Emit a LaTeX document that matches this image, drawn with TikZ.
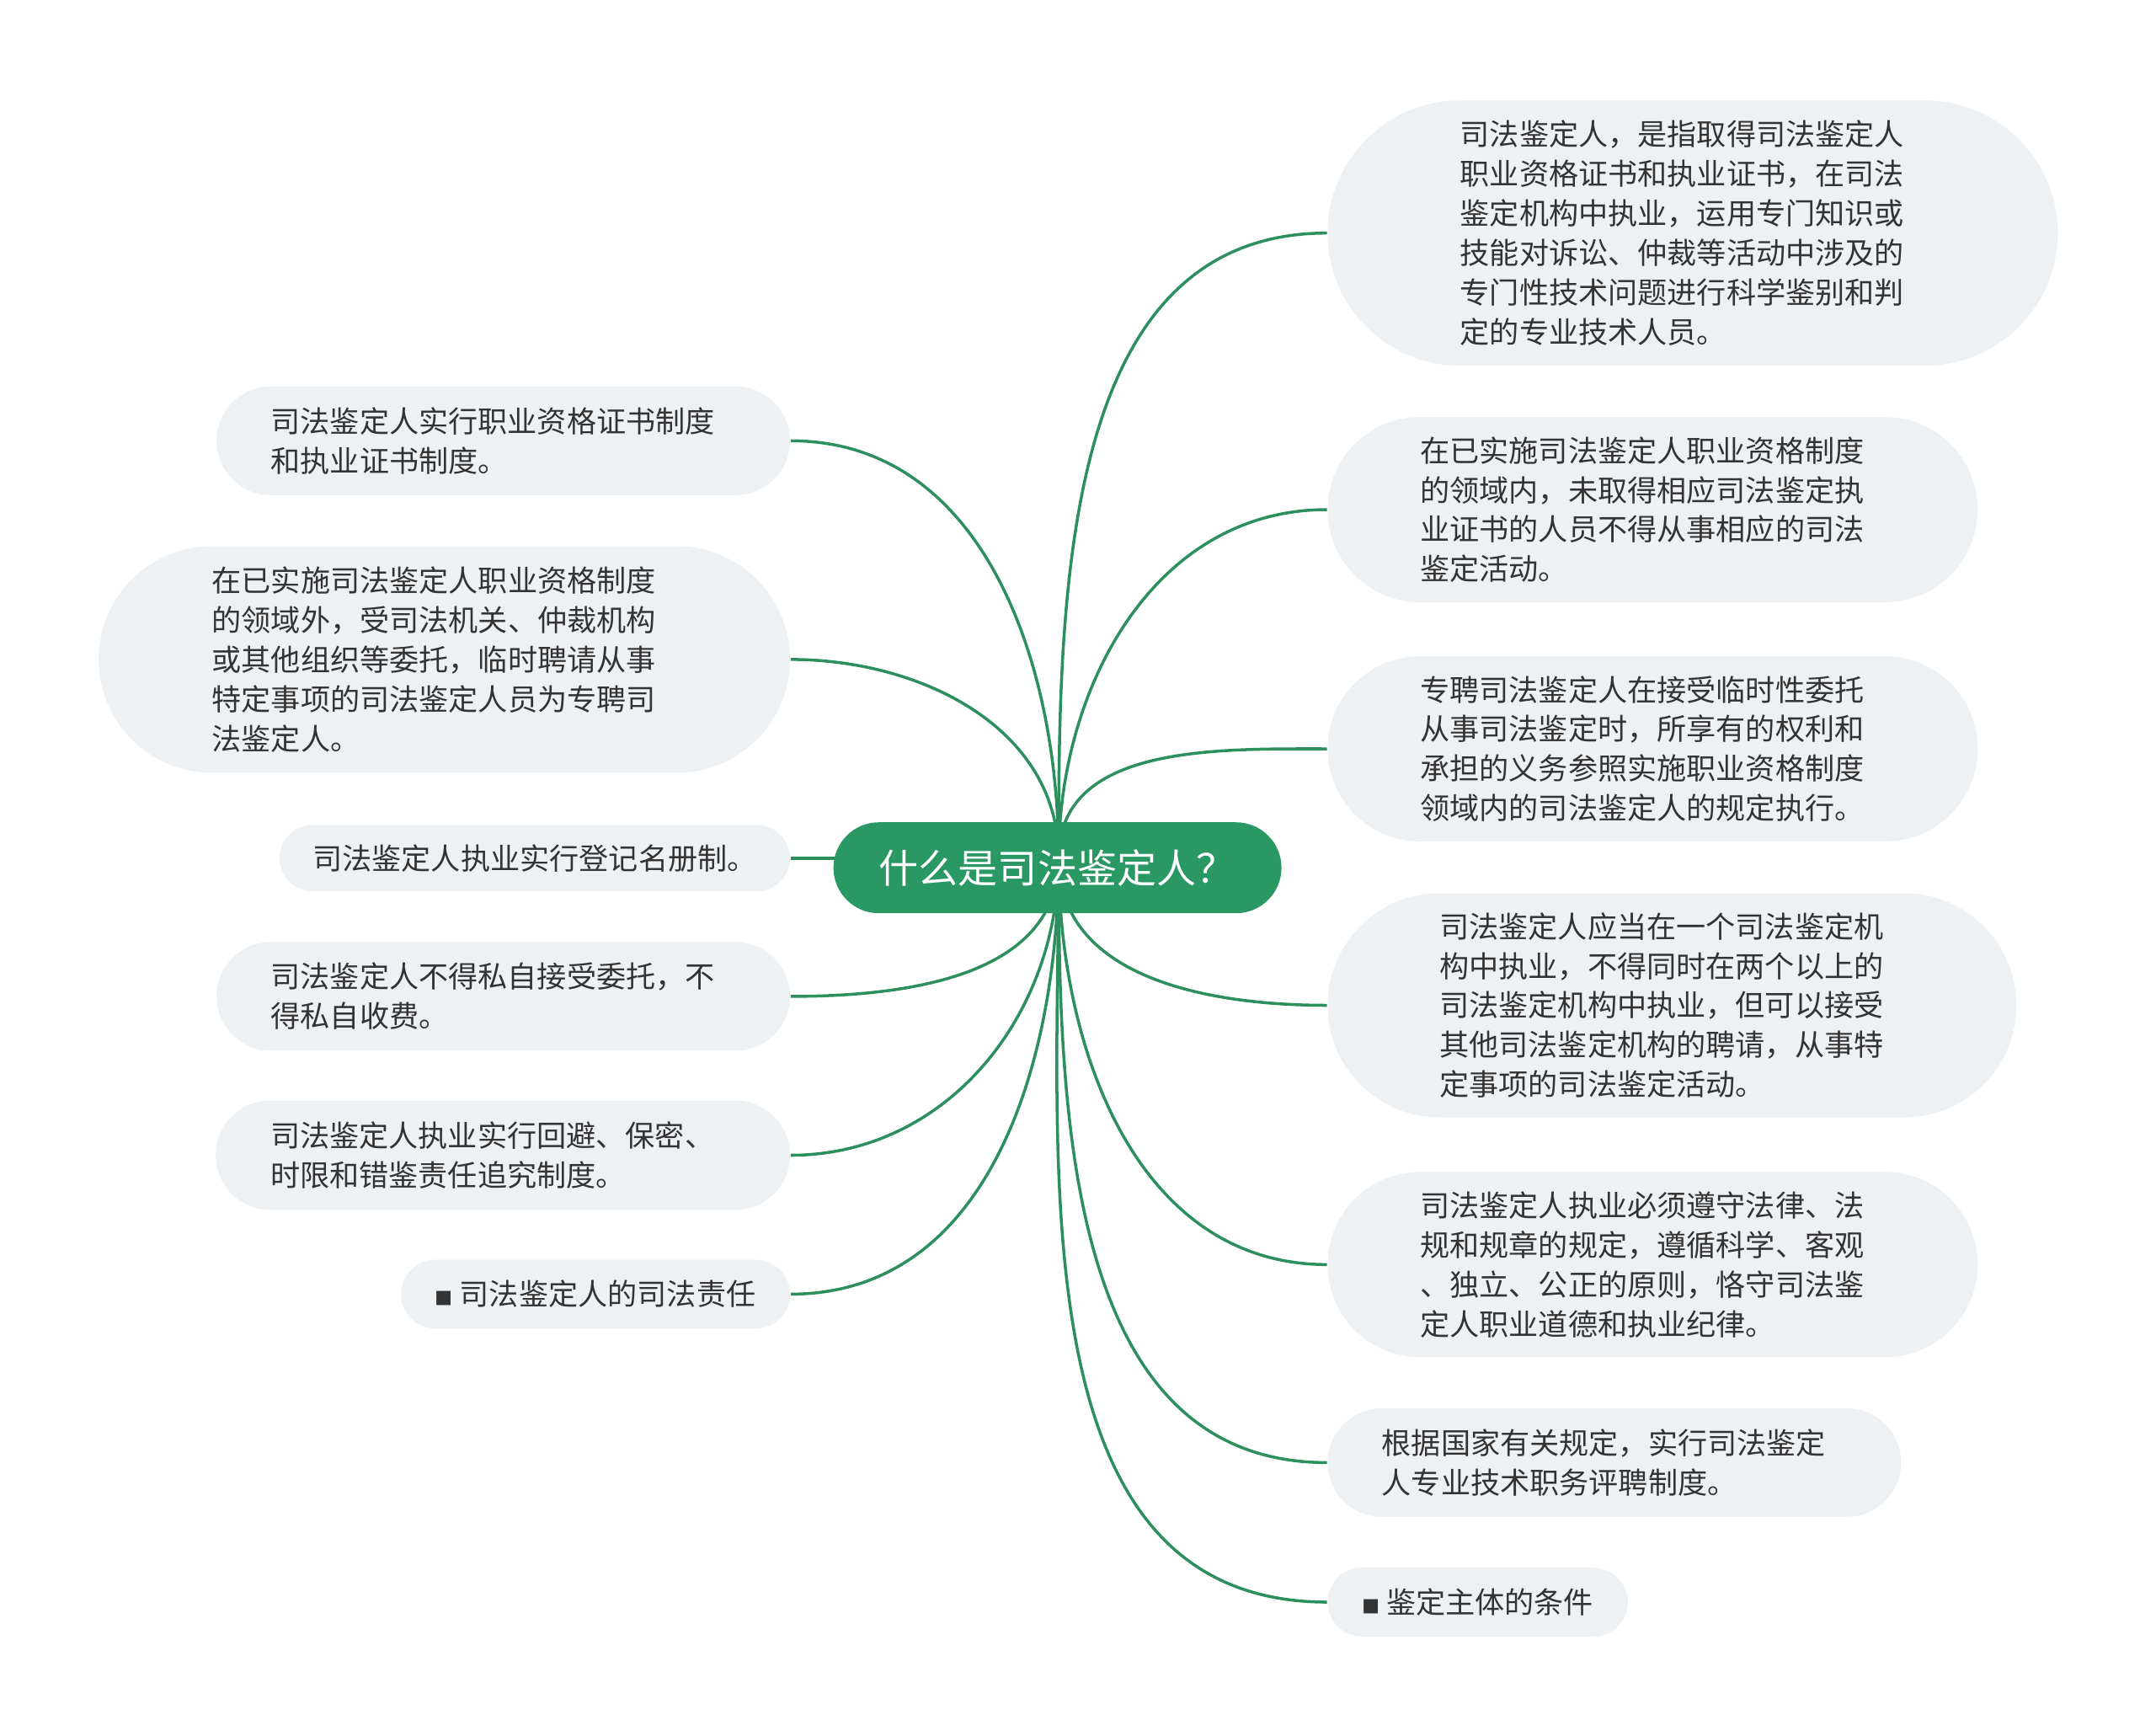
\documentclass[tikz,border=0pt]{standalone}
\usepackage{fontspec}
\setmainfont{Noto Sans CJK SC}
\usetikzlibrary{shapes.misc,backgrounds}
\definecolor{rootgreen}{HTML}{2A9863}
\definecolor{linkgreen}{HTML}{2E8F5E}
\definecolor{leafgray}{HTML}{EEF1F4}
\definecolor{textdark}{HTML}{333333}
\newcommand{\bulletsq}{{\fontsize{6}{6}\selectfont ■}}
\begin{document}
\begin{tikzpicture}[
    root/.style={rounded rectangle, fill=rootgreen, text=white, font=\fontsize{13.4}{15}\selectfont, minimum width=5.32cm, minimum height=1.08cm, inner xsep=0pt},
    leaf/.style={rectangle, fill=leafgray, text=textdark, align=left, font=\fontsize{10}{13.33}\selectfont, minimum height=#1, inner ysep=0pt, inner xsep=#1/2, rounded corners=#1/2},
    wide/.style={leaf=#1, text width=5.52cm},
    link/.style={draw=linkgreen, line width=1pt}
]
    \useasboundingbox (0,0) rectangle (25.6,-20.61);

    % Root
    \node[root] (root) at (12.556,-10.302) {什么是司法鉴定人？};
    \coordinate (hub) at (12.57,-10.188);

    % Right branch
    \node[wide=3.15cm, anchor=west] (def) at (15.756,-2.767) {司法鉴定人，是指取得司法鉴定人\\职业资格证书和执业证书，在司法\\鉴定机构中执业，运用专门知识或\\技能对诉讼、仲裁等活动中涉及的\\专门性技术问题进行科学鉴别和判\\定的专业技术人员。};
    \node[wide=2.2cm, anchor=west] (inside) at (15.756,-6.05) {在已实施司法鉴定人职业资格制度\\的领域内，未取得相应司法鉴定执\\业证书的人员不得从事相应的司法\\鉴定活动。};
    \node[wide=2.2cm, anchor=west] (rights) at (15.756,-8.89) {专聘司法鉴定人在接受临时性委托\\从事司法鉴定时，所享有的权利和\\承担的义务参照实施职业资格制度\\领域内的司法鉴定人的规定执行。};
    \node[wide=2.66cm, anchor=west] (oneorg) at (15.756,-11.935) {司法鉴定人应当在一个司法鉴定机\\构中执业，不得同时在两个以上的\\司法鉴定机构中执业，但可以接受\\其他司法鉴定机构的聘请，从事特\\定事项的司法鉴定活动。};
    \node[wide=2.2cm, anchor=west] (obey) at (15.756,-15.013) {司法鉴定人执业必须遵守法律、法\\规和规章的规定，遵循科学、客观\\、独立、公正的原则，恪守司法鉴\\定人职业道德和执业纪律。};
    \node[wide=1.29cm, anchor=west] (title) at (15.756,-17.364) {根据国家有关规定，实行司法鉴定\\人专业技术职务评聘制度。};
    \node[leaf=0.816cm, anchor=west] (subject) at (15.756,-19.02) {\bulletsq\ 鉴定主体的条件};

    % Left branch
    \node[wide=1.29cm, anchor=east] (cert) at (9.388,-5.233) {司法鉴定人实行职业资格证书制度\\和执业证书制度。};
    \node[wide=2.69cm, anchor=east] (outside) at (9.388,-7.829) {在已实施司法鉴定人职业资格制度\\的领域外，受司法机关、仲裁机构\\或其他组织等委托，临时聘请从事\\特定事项的司法鉴定人员为专聘司\\法鉴定人。};
    \node[leaf=0.79cm, anchor=east] (register) at (9.388,-10.188) {司法鉴定人执业实行登记名册制。};
    \node[wide=1.29cm, anchor=east] (private) at (9.388,-11.829) {司法鉴定人不得私自接受委托，不\\得私自收费。};
    \node[wide=1.3cm, anchor=east] (avoid) at (9.388,-13.715) {司法鉴定人执业实行回避、保密、\\时限和错鉴责任追究制度。};
    \node[leaf=0.816cm, anchor=east] (duty) at (9.388,-15.364) {\bulletsq\ 司法鉴定人的司法责任};

    % Connectors
    \begin{scope}[on background layer]
        \draw[link] (hub) to[out=90, in=180] (def.west);
        \draw[link] (hub) to[out=90, in=180] (inside.west);
        \draw[link] (hub) to[out=90, in=180] (rights.west);
        \draw[link] (hub) to[out=-90, in=180] (oneorg.west);
        \draw[link] (hub) to[out=-90, in=180] (obey.west);
        \draw[link] (hub) to[out=-90, in=180] (title.west);
        \draw[link] (hub) to[out=-90, in=180] (subject.west);
        \draw[link] (hub) to[out=90, in=0] (cert.east);
        \draw[link] (hub) to[out=90, in=0] (outside.east);
        \draw[link] (hub) -- (register.east);
        \draw[link] (hub) to[out=-90, in=0] (private.east);
        \draw[link] (hub) to[out=-90, in=0] (avoid.east);
        \draw[link] (hub) to[out=-90, in=0] (duty.east);
    \end{scope}
\end{tikzpicture}
\end{document}
